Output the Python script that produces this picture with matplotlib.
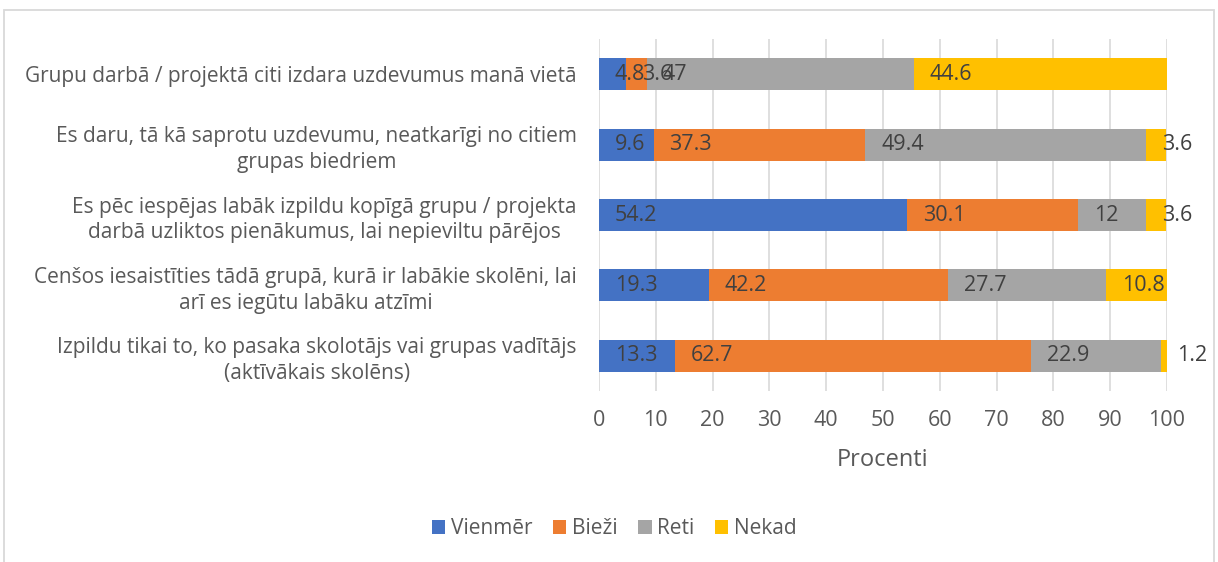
import matplotlib
matplotlib.use("Agg")
import matplotlib.pyplot as plt
from matplotlib.patches import Rectangle
import numpy as np

plt.rcParams['font.family'] = ['Open Sans', 'DejaVu Sans']

categories = [
    "Grupu darbā / projektā citi izdara uzdevumus manā vietā",
    "Es daru, tā kā saprotu uzdevumu, neatkarīgi no citiem\ngrupas biedriem",
    "Es pēc iespējas labāk izpildu kopīgā grupu / projekta\ndarbā uzliktos pienākumus, lai nepieviltu pārējos",
    "Cenšos iesaistīties tādā grupā, kurā ir labākie skolēni, lai\narī es iegūtu labāku atzīmi",
    "Izpildu tikai to, ko pasaka skolotājs vai grupas vadītājs\n(aktīvākais skolēns)",
]
series_names = ["Vienmēr", "Bieži", "Reti", "Nekad"]
vienmer = [4.8, 9.6, 54.2, 19.3, 13.3]
biezi = [3.6, 37.3, 30.1, 42.2, 62.7]
reti = [47, 49.4, 12, 27.7, 22.9]
nekad = [44.6, 3.6, 3.6, 10.8, 1.2]
colors = ["#4472C4", "#ED7D31", "#A5A5A5", "#FFC000"]
xticks = [0, 10, 20, 30, 40, 50, 60, 70, 80, 90, 100]
xlabel = "Procenti"

W, H = 1218, 562
fig = plt.figure(figsize=(W / 100, H / 100), dpi=100)
fig.patches.append(Rectangle((4 / W, -0.05), 1210 / W, 1.05 - 10 / H, transform=fig.transFigure,
                             fill=False, edgecolor="#D9D9D9", lw=1.3))

ax = fig.add_axes([599 / W, 1 - 391 / H, (1167 - 599) / W, (391 - 39) / H])
y = np.arange(len(categories))
left = np.zeros(len(categories))
for name, vals, c in zip(series_names, [vienmer, biezi, reti, nekad], colors):
    vals = np.array(vals, dtype=float)
    ax.barh(y, vals, left=left, height=0.455, color=c, label=name, zorder=2)
    for yi, l, v in zip(y, left, vals):
        ax.annotate(f"{v:g}", xy=(l, yi), xytext=(11.5, 0), textcoords="offset points",
                    ha="left", va="center", fontsize=15.5, color="#404040", zorder=3)
    left += vals

ax.set_xlim(0, 100)
ax.set_ylim(len(categories) - 0.5, -0.5)
ax.set_xticks(xticks)
ax.set_xticklabels([str(t) for t in xticks])
ax.set_yticks(y)
ax.set_yticklabels(categories, multialignment="center", linespacing=1.3)
ax.tick_params(axis="x", length=0, pad=14, labelsize=15.5, labelcolor="#595959")
ax.tick_params(axis="y", length=0, pad=16, labelsize=15, labelcolor="#595959")
ax.grid(axis="x", color="#D9D9D9", lw=1.2, zorder=0)
for s in ax.spines.values():
    s.set_visible(False)
ax.set_xlabel(xlabel, fontsize=17, color="#595959", labelpad=12)

fig.legend(loc="center", bbox_to_anchor=(614 / W, 1 - 529 / H), ncol=4, frameon=False,
           fontsize=15, labelcolor="#595959", handlelength=0.65, handleheight=0.65,
           handletextpad=0.25, columnspacing=1.0)

fig.savefig("out.png", dpi=100)
